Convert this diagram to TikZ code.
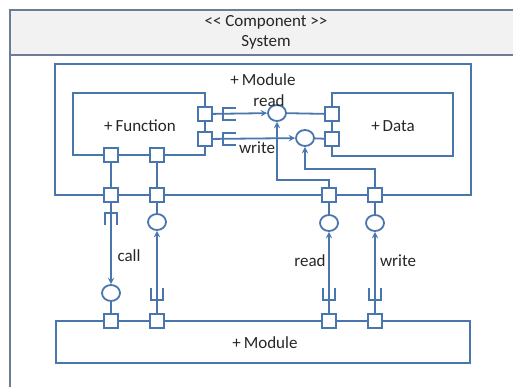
\documentclass[tikz,border=0pt]{standalone}
\usepackage{fontspec}
\setmainfont{Carlito}
\usetikzlibrary{shapes.geometric}
\definecolor{framegray}{HTML}{6B7C96}
\definecolor{linkblue}{HTML}{4A76AE}
\definecolor{headfill}{HTML}{F2F2F2}

\begin{document}
\begin{tikzpicture}[x=1pt,y=-1pt,>=stealth,
        box/.style={draw=linkblue,line width=1.8pt},
        port/.style={draw=linkblue,fill=white,line width=1.8pt,minimum size=14pt,inner sep=0pt},
        ball/.style={draw=linkblue,fill=white,ellipse,line width=1.8pt,minimum width=18pt,minimum height=16pt,inner sep=0pt},
        wire/.style={draw=linkblue,line width=1.8pt},
        lbl/.style={font=\fontsize{17}{19}\selectfont,text=black!85},
        sockr/.pic={\draw[wire] (13,-6) -- (0,-6) -- (0,6) -- (13,6);},
        sockd/.pic={\draw[wire] (-6,12) -- (-6,0) -- (6,0) -- (6,12);},
        socku/.pic={\draw[wire] (-6,-12) -- (-6,0) -- (6,0) -- (6,-12);}]
        \useasboundingbox (0,0) rectangle (513,386);

        % Outer component frame with its header
        \draw[framegray,line width=2pt,fill=headfill] (10,10) rectangle (530,55);
        \draw[framegray,line width=2pt] (10,55) rectangle (530,400);
        \node[lbl] (stereo) at (266,22) {{<}{<} Component {>}{>}};
        \node[lbl] (sysname) at (266,42) {System};

        % Boxes: module, function, data and the lower module
        \draw[box] (55,64) rectangle (471,195);
        \draw[box] (73,93) rectangle (205,155);
        \draw[box] (332,93) rectangle (453,156);
        \draw[box] (56,321) rectangle (470,363);
        \node[lbl] (modtop) at (263,80) {+\,Module};
        \node[lbl] (func) at (140,126) {+\,Function};
        \node[lbl] (data) at (393,126) {+\,Data};
        \node[lbl] (modbot) at (265,343) {+\,Module};

        % Ports
        \node[port] (fp1) at (205,114) {};
        \node[port] (fp2) at (205,139) {};
        \node[port] (fp3) at (111,155) {};
        \node[port] (fp4) at (157,155) {};
        \node[port] (dp1) at (332,114) {};
        \node[port] (dp2) at (332,139) {};
        \node[port] (mp1) at (111,195) {};
        \node[port] (mp2) at (157,195) {};
        \node[port] (mp3) at (329,195) {};
        \node[port] (mp4) at (375,195) {};
        \node[port] (lp1) at (111,321) {};
        \node[port] (lp2) at (157,321) {};
        \node[port] (lp3) at (329,321) {};
        \node[port] (lp4) at (375,321) {};

        % Provided interfaces (balls)
        \node[ball] (rdball) at (277,113) {};
        \node[ball] (wrball) at (305,138) {};
        \node[ball] (callball) at (111,293) {};
        \node[ball] (retball) at (157,222) {};
        \node[ball] (rdball2) at (329,223) {};
        \node[ball] (wrball2) at (375,223) {};

        % Inside the module: function -> data
        \draw[wire,->] (fp1) -- (rdball);
        \draw[wire] (rdball) -- (dp1);
        \draw[wire,->] (fp2) -- (wrball);
        \draw[wire] (wrball) -- (dp2);
        \pic at (223,114) {sockr};
        \pic at (223,139) {sockr};
        \node[lbl] (rdlbl) at (269,101) {read};
        \node[lbl] (wrlbl) at (257,148) {write};

        % Delegation from the module ports
        \draw[wire] (fp3) -- (mp1);
        \draw[wire] (fp4) -- (mp2);
        \draw[wire,->] (mp3) -- ++(0,-15) -| (rdball);
        \draw[wire,->] (mp4) -- ++(0,-26) -| (wrball);

        % Between the two modules
        \draw[wire,->] (mp1) -- (callball);
        \draw[wire] (callball) -- (lp1);
        \pic at (111,213) {sockd};
        \draw[wire] (mp2) -- (retball);
        \draw[wire,->] (lp2) -- (retball);
        \pic at (157,300) {socku};
        \draw[wire] (mp3) -- (rdball2);
        \draw[wire,->] (lp3) -- (rdball2);
        \pic at (329,300) {socku};
        \draw[wire] (mp4) -- (wrball2);
        \draw[wire,->] (lp4) -- (wrball2);
        \pic at (375,300) {socku};
        \node[lbl] (calllbl) at (129,256) {call};
        \node[lbl] (rdlbl2) at (310,261) {read};
        \node[lbl] (wrlbl2) at (398,261) {write};
\end{tikzpicture}
\end{document}
